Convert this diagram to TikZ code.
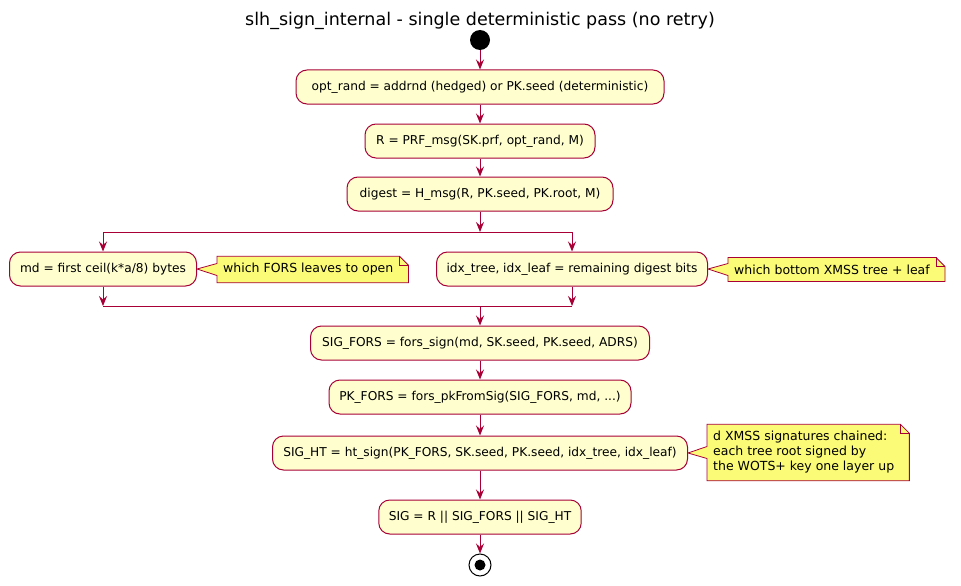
\documentclass[tikz,border=0pt]{standalone}
\usepackage{fontspec}
\setmainfont{DejaVu Sans}
\usepackage{xcolor}
\usetikzlibrary{arrows.meta, positioning, calc, backgrounds}

\definecolor{umlred}{HTML}{A80036}
\definecolor{actfill}{HTML}{FEFECE}
\definecolor{notefill}{HTML}{FBFB77}

% note outline with folded corner and pointer to its box
\newcommand{\drawnote}[2]{%
  \begin{scope}[on background layer]
  \draw[noteline] (#1.north west) -- (#1.north east) -- ([xshift=9pt,yshift=-9pt]#1.north east)
    -- ([xshift=9pt]#1.south east) -- (#1.south west) -- ([yshift=-6pt]#1.west)
    -- (#2.east) -- ([yshift=6pt]#1.west) -- cycle;
  \draw[noteline, fill=none] (#1.north east) -- ([yshift=-9pt]#1.north east) -- ([xshift=9pt,yshift=-9pt]#1.north east);
  \end{scope}
}

\begin{document}
\begin{tikzpicture}[x=1pt, y=-1pt,
    actbox/.style={rectangle, rounded corners=11pt, draw=umlred, fill=actfill, line width=1pt,
      minimum height=34pt, minimum width=#1, inner xsep=10pt, text height=9.5pt, text depth=3pt,
      font=\fontsize{12.2}{15}\selectfont},
    actbox/.default=100pt,
    notebox/.style={inner xsep=6pt, inner ysep=7pt, align=left, anchor=west,
      font=\fontsize{12.5}{15}\selectfont},
    noteline/.style={draw=umlred, fill=notefill, line width=0.8pt, line join=miter},
    arr/.style={draw=umlred, line width=1pt, -{Stealth[length=10pt, width=8pt, inset=3.5pt]}},
    bar/.style={draw=umlred, line width=1pt}]
    \useasboundingbox (0,0) rectangle (961,586);

    % TITLE AND START
    \node (title) at (480,21) {\fontsize{17.5}{20}\selectfont slh\_sign\_internal - single deterministic pass (no retry)};
    \node (start) [circle, fill=black, minimum size=20pt, inner sep=0pt] at (480,40) {};

    % SEED, R, DIGEST
    \node (optrand) [actbox=368pt] at (480,87) {opt\_rand = addrnd (hedged) or PK.seed (deterministic)};
    \node (rmsg) [actbox=230pt] at (480,141) {R = PRF\_msg(SK.prf, opt\_rand, M)};
    \node (digest) [actbox=266pt] at (480,194) {digest = H\_msg(R, PK.seed, PK.root, M)};
    \draw[arr] (start) -- (optrand);
    \draw[arr] (optrand) -- (rmsg);
    \draw[arr] (rmsg) -- (digest);

    % SPLIT OF THE DIGEST
    \coordinate (forkMid) at (480,232);
    \coordinate (forkL) at (103,232);
    \coordinate (forkR) at (572,232);
    \coordinate (joinMid) at (480,306);
    \coordinate (joinL) at (103,306);
    \coordinate (joinR) at (572,306);
    \node (md) [actbox=187pt] at (103,269) {md = first ceil(k*a/8) bytes};
    \node (idx) [actbox=270pt] at (572,269) {idx\_tree, idx\_leaf = remaining digest bits};
    \draw[arr] (digest) -- (forkMid);
    \draw[bar] (forkL) -- (forkR);
    \draw[arr] (forkL) -- (md);
    \draw[arr] (forkR) -- (idx);
    \draw[arr] (md) -- (joinL);
    \draw[arr] (idx) -- (joinR);
    \draw[bar] (joinL) -- (joinR);

    \node (noteMd) [notebox] at (217,269.5) {which FORS leaves to open};
    \drawnote{noteMd}{md}
    \node (noteIdx) [notebox] at (728,269.5) {which bottom XMSS tree + leaf};
    \drawnote{noteIdx}{idx}

    % FORS AND HYPERTREE
    \node (forssign) [actbox=339pt] at (480,343) {SIG\_FORS = fors\_sign(md, SK.seed, PK.seed, ADRS)};
    \node (pkfors) [actbox=302pt] at (480,397) {PK\_FORS = fors\_pkFromSig(SIG\_FORS, md, ...)};
    \node (htsign) [actbox=415pt] at (480,453) {SIG\_HT = ht\_sign(PK\_FORS, SK.seed, PK.seed, idx\_tree, idx\_leaf)};
    \node (sig) [actbox=200pt] at (480,517) {SIG = R || SIG\_FORS || SIG\_HT};
    \draw[arr] (joinMid) -- (forssign);
    \draw[arr] (forssign) -- (pkfors);
    \draw[arr] (pkfors) -- (htsign);
    \draw[arr] (htsign) -- (sig);

    \node (noteHt) [notebox] at (707,452.5) {d XMSS signatures chained:\\each tree root signed by\\the WOTS+ key one layer up};
    \drawnote{noteHt}{htsign}

    % END
    \node (stop) [circle, draw=black, line width=1pt, minimum size=22pt, inner sep=0pt] at (480,565) {};
    \node (stopdot) [circle, fill=black, minimum size=11pt, inner sep=0pt] at (stop) {};
    \draw[arr] (sig) -- (stop);
\end{tikzpicture}
\end{document}
